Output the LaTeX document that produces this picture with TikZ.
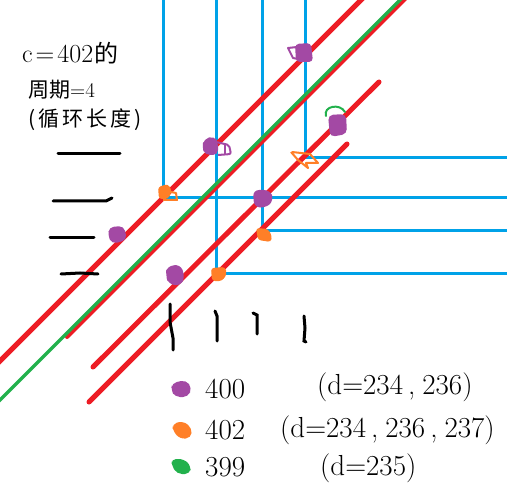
\documentclass[tikz,border=0pt]{standalone}
\usepackage{fontspec}
\newfontfamily\cjk{Noto Sans CJK SC}
\definecolor{pred}{RGB}{237,28,36}
\definecolor{pblue}{RGB}{0,162,232}
\definecolor{pgreen}{RGB}{34,177,76}
\definecolor{ppur}{RGB}{163,73,164}
\definecolor{porange}{RGB}{255,127,39}
\newcommand{\wc}{\hspace{5pt},\hspace{7pt}}
\begin{document}
\begin{tikzpicture}[x=1pt,y=-1pt,
  blueln/.style={pblue,line width=3pt},
  redln/.style={pred,line width=5pt,line cap=round},
  greenln/.style={pgreen,line width=3.5pt},
  blackln/.style={black,line width=3pt,line cap=round},
  purfill/.style={fill=ppur},
  purdraw/.style={draw=ppur,line width=2pt,line join=round},
  orfill/.style={fill=porange},
  ordraw/.style={draw=porange,line width=2pt,line join=round},
  lbl/.style={inner sep=0pt,anchor=west},
  legtxt/.style={inner sep=0pt,anchor=west,font=\fontsize{29}{32}\selectfont}]
\useasboundingbox (0,0) rectangle (507,503);
% blue grid lines
\draw[blueln] (163,-2) |- (509,198);
\draw[blueln] (216,-2) |- (509,273);
\draw[blueln] (262,-2) |- (509,230);
\draw[blueln] (305,-2) |- (509,158);
% red and green diagonals
\draw[pred,line width=5pt] (-4,365) -- (366,-5);
\draw[pred,line width=4pt,line cap=round] (67,337) -- (408,-4);
\draw[greenln] (-4,404) -- (405,-5);
\draw[redln] (93,367) -- (379,82);
\draw[redln] (89,402) -- (347,144);
% black dashes at left
\draw[blackln] (58,154) -- (120,154);
\draw[blackln] (53,201) -- (106,201) -- (112,198);
\draw[blackln] (50,237) -- (94,237);
\draw[blackln] (61,274) -- (80,273) -- (98,274);
% black vertical marks
\draw[blackln] (170,304) -- (170,322) -- (173,338) -- (173,350);
\draw[blackln] (215,311) -- (217,316) -- (217,341);
\draw[blackln] (253,313) -- (257,315) -- (257,334);
\draw[blackln] (304,316) -- (305,328) -- (304,341) -- (306,342);
% purple markers
\fill[purfill,rounded corners=4pt] (295,44) -- (311,43) -- (313,62) -- (296,62) -- cycle;
\draw[purdraw] (297,47) -- (288,48) -- (293,58) -- (298,59);
\fill[purfill,rounded corners=5pt] (204,139) -- (214,136) -- (218,142) -- (218,155) -- (205,155) -- (202,147) -- cycle;
\draw[purdraw,rounded corners=2pt] (216,142) -- (229,145) -- (231,154) -- (218,155);
\draw[purdraw] (225,145) -- (225,154);
\fill[purfill,rounded corners=6pt] (253,190) -- (270,190) -- (274,200) -- (266,208) -- (254,207) -- cycle;
\fill[purfill,rounded corners=5pt] (109,227) -- (124,226) -- (127,240) -- (112,244) -- (108,236) -- cycle;
\fill[purfill,rounded corners=6pt] (166,267) -- (180,264) -- (185,276) -- (181,286) -- (168,284) -- (166,275) -- cycle;
\fill[purfill,rounded corners=5pt] (328,115) -- (346,114) -- (347,134) -- (330,137) -- cycle;
\draw[pgreen,line width=2pt,line cap=round] (326,116) .. controls (323,106) and (340,103) .. (345,112);
% orange markers
\fill[orfill,rounded corners=3pt] (158,187) -- (168,184) -- (172,191) -- (168,199) -- (159,199) -- cycle;
\draw[ordraw] (166,191) -- (176,193) -- (177,200) -- (163,200);
\draw[ordraw] (292,152) -- (310,154) -- (318,163) -- (306,163) -- (308,168) -- (298,160) -- (291,152);
\fill[orfill,rounded corners=3pt] (256,228) -- (268,229) -- (272,236) -- (271,242) -- (258,240) -- cycle;
\fill[orfill,rounded corners=3pt] (211,268) -- (225,267) -- (227,274) -- (222,281) -- (212,281) -- cycle;
% text at top left
\node[lbl,font=\fontsize{26}{28}\selectfont] (title) at (22,53) {c\hspace{3pt}=\hspace{3pt}402\hspace{1pt}{\cjk\fontsize{24}{26}\selectfont 的}};
\node[lbl,font=\fontsize{21}{24}\selectfont] (period) at (28,90) {{\cjk 周期}=4};
\node[lbl,font=\fontsize{21}{24}\selectfont\cjk] (cyc) at (28,120) {(\hspace{3pt}循\hspace{3pt}环\hspace{3pt}长\hspace{3pt}度\hspace{3pt})};
% legend
\fill[purfill,rounded corners=5pt] (172,383) -- (186,380) -- (192,388) -- (188,397) -- (175,397) -- (171,390) -- cycle;
\fill[orfill,rounded corners=5pt] (172,424) -- (183,421) -- (192,428) -- (191,438) -- (180,439) -- (173,431) -- cycle;
\fill[pgreen,rounded corners=5pt] (171,459) -- (184,459) -- (191,466) -- (190,474) -- (177,474) -- (172,466) -- cycle;
\node[legtxt] (n400) at (205,389) {400};
\node[legtxt] (d400) at (317,387) {(d=234\wc236)};
\node[legtxt] (n402) at (205,430) {402};
\node[legtxt] (d402) at (280,430) {(d=234\wc236\wc237)};
\node[legtxt] (n399) at (205,467) {399};
\node[legtxt] (d399) at (320,468) {(d=235)};
\end{tikzpicture}
\end{document}
